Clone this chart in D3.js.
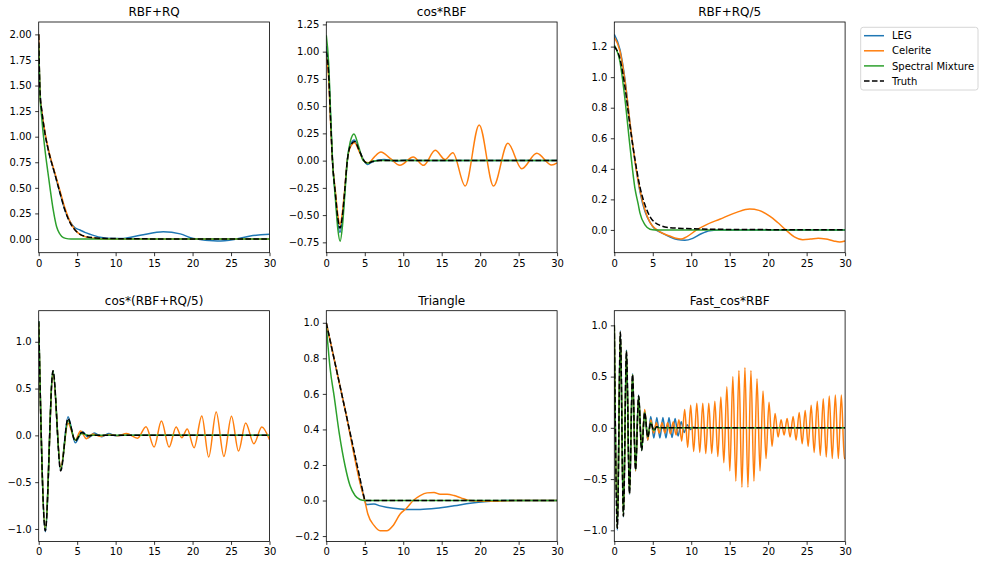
<!DOCTYPE html>
<html><head><meta charset="utf-8">
<script src="https://cdn.jsdelivr.net/npm/d3@7"></script>
<style>body{margin:0;background:#fff} text{font-family:"DejaVu Sans",sans-serif}</style>
</head><body><svg id="c" width="985" height="565"></svg>
<script>
const seriesNames = ["LEG", "Celerite", "Spectral Mixture", "Truth"];
const panelTitles = ["RBF+RQ", "cos*RBF", "RBF+RQ/5", "cos*(RBF+RQ/5)", "Triangle", "Fast_cos*RBF"];
const xTicks = [0, 5, 10, 15, 20, 25, 30];
const yTicks1 = [0, 0.25, 0.5, 0.75, 1.0, 1.25, 1.5, 1.75, 2.0];
const yTicks2 = [-0.75, -0.5, -0.25, 0, 0.25, 0.5, 0.75, 1.0, 1.25];
const yTicks3 = [0, 0.2, 0.4, 0.6, 0.8, 1.0, 1.2];
const yTicks4 = [-1.0, -0.5, 0, 0.5, 1.0];
const yTicks5 = [-0.2, 0, 0.2, 0.4, 0.6, 0.8, 1.0];
const yTicks6 = [-1.0, -0.5, 0, 0.5, 1.0];
const yRanges = [[-0.134, 2.121], [-0.845, 1.272], [-0.149, 1.361], [-1.133, 1.332], [-0.230, 1.068], [-1.108, 1.143]];

// Panel 1: RBF+RQ
const p1Leg = [[0,2.0],[0.1,1.6],[0.2,1.4],[0.39,1.26],[0.82,1.03],[1.25,0.87],[2.12,0.63],[2.77,0.45],[3.42,0.28],[4.07,0.17],[4.72,0.11],[5.37,0.088],[6.0,0.065],[6.67,0.046],[7.97,0.017],[9.7,0.005],[11,0.006],[13.2,0.036],[16.2,0.072],[18.4,0.05],[20.1,0.004],[23.2,-0.02],[25.4,-0.004],[27.5,0.03],[30,0.046]];
const p1Cel = [[0,2.0],[0.1,1.6],[0.2,1.38],[0.4,1.25],[0.82,1.04],[1.25,0.88],[2.12,0.64],[2.77,0.47],[3.42,0.3],[4.07,0.17],[4.72,0.09],[5.37,0.045],[6.2,0.018],[7.5,0.005],[9,0],[30,0]];
const p1Sm = [[0,1.9],[0.15,1.45],[0.4,1.18],[0.82,0.87],[1.2,0.65],[1.47,0.5],[1.9,0.28],[2.33,0.12],[2.69,0.056],[3.0,0.025],[3.5,0.006],[4.2,0],[30,0]];
const p1Truth = [[0,2.0],[0.1,1.6],[0.2,1.4],[0.39,1.26],[0.82,1.03],[1.25,0.87],[2.12,0.63],[2.77,0.45],[3.42,0.28],[4.07,0.16],[4.72,0.088],[5.37,0.046],[6.2,0.023],[7.54,0.01],[9.7,0.004],[15,0.001],[30,0]];

// Panel 2: cos*RBF
const p2Leg = [[0,1.05],[0.3,0.83],[0.57,0.37],[0.8,0.0],[1.18,-0.31],[1.5,-0.57],[1.78,-0.66],[2.1,-0.53],[2.4,-0.28],[2.73,0],[3.1,0.14],[3.65,0.19],[4.3,0.09],[4.9,0.0],[5.37,-0.035],[6.0,-0.01],[7.5,0.01],[9,-0.005],[10.5,0.005],[12,0],[30,0]];
const p2Cel = [[0,0.95],[0.3,0.76],[0.57,0.33],[0.8,0.0],[1.18,-0.28],[1.5,-0.5],[1.78,-0.59],[2.1,-0.47],[2.4,-0.26],[2.73,0],[3.1,0.12],[3.68,0.165],[4.3,0.08],[5.0,-0.01],[5.5,-0.02],[6.2,0.03],[7.1,0.079],[8.3,0.02],[9.57,-0.043],[11.3,0.033],[12.65,-0.043],[14.16,0.094],[15.45,0.01],[16.45,0.072],[18.05,-0.233],[19.87,0.327],[21.74,-0.233],[23.6,0.159],[25.4,-0.074],[27.36,0.067],[29.3,-0.04],[30,-0.02]];
const p2Sm = [[0,1.15],[0.3,0.9],[0.57,0.42],[0.8,0.02],[1.18,-0.35],[1.5,-0.63],[1.8,-0.74],[2.1,-0.6],[2.4,-0.32],[2.73,0.0],[3.1,0.17],[3.6,0.245],[4.2,0.13],[4.8,0.0],[5.4,-0.025],[6,-0.005],[7,0],[30,0]];
const p2Truth = [[0,1.0],[0.3,0.8],[0.57,0.35],[0.8,0.0],[1.18,-0.3],[1.5,-0.53],[1.78,-0.62],[2.1,-0.5],[2.4,-0.27],[2.73,0],[3.1,0.13],[3.68,0.175],[4.3,0.09],[4.9,0.0],[5.37,-0.025],[6.0,-0.008],[7,0],[30,0]];

// Panel 3: RBF+RQ/5
const p3Leg = [[0,1.28],[0.74,1.18],[1.4,0.98],[2.04,0.7],[2.69,0.45],[3.34,0.25],[3.99,0.12],[4.64,0.05],[5.3,0.005],[6.2,-0.02],[7.2,-0.045],[8.2,-0.063],[9.18,-0.068],[10.2,-0.055],[11.3,-0.025],[12.4,-0.005],[13.5,0],[30,0]];
const p3Cel = [[0,1.26],[0.74,1.17],[1.4,0.97],[2.04,0.7],[2.69,0.45],[3.34,0.26],[3.99,0.13],[4.64,0.05],[5.3,0.01],[6.2,-0.02],[7.2,-0.04],[8.0,-0.055],[8.66,-0.06],[9.4,-0.045],[10.7,0.0],[12,0.035],[13.7,0.07],[15.9,0.115],[17.6,0.137],[18.8,0.128],[20.2,0.09],[21.2,0.05],[22.3,0.0],[23.4,-0.045],[24.5,-0.064],[25.5,-0.06],[26.5,-0.054],[27.5,-0.06],[28.5,-0.072],[29.3,-0.079],[30,-0.072]];
const p3Sm = [[0,1.21],[0.74,1.1],[1.4,0.85],[2.04,0.545],[2.69,0.27],[3.1,0.17],[3.34,0.11],[3.99,0.033],[4.64,0.005],[5.3,0],[30,0]];
const p3Truth = [[0,1.2],[0.74,1.12],[1.4,0.93],[2.04,0.68],[2.69,0.46],[3.34,0.28],[3.99,0.164],[4.64,0.087],[5.3,0.048],[6.15,0.026],[7.24,0.015],[9.4,0.009],[13.7,0.004],[20,0.002],[30,0.001]];

// Panel 4: cos*(RBF+RQ/5)
const p4Leg = [[0,1.22],[0.86,-1.03],[1.86,0.68],[2.86,-0.37],[3.81,0.2],[4.76,-0.08],[5.65,0.04],[6.5,-0.025],[7.2,0.025],[8.2,-0.015],[9.1,0.02],[10.0,-0.005],[11,0],[30,0]];
const p4Cel = [[0,1.2],[0.86,-1.0],[1.86,0.66],[2.86,-0.34],[3.81,0.13],[4.76,-0.05],[5.44,0.046],[6.2,-0.036],[7.0,0.015],[8.0,-0.01],[9.2,0.01],[10.3,-0.005],[11.4,0.02],[12.85,-0.03],[13.95,0.093],[15.0,-0.125],[15.95,0.153],[16.95,-0.125],[17.86,0.09],[18.6,-0.025],[19.3,0.068],[20.2,-0.132],[21.2,0.207],[22.1,-0.232],[23.07,0.25],[24.07,-0.225],[25.06,0.204],[25.97,-0.168],[26.9,0.132],[27.97,-0.09],[29.0,0.09],[30,-0.046]];
const p4Sm = [[0,1.22],[0.86,-1.0],[1.86,0.69],[2.86,-0.37],[3.81,0.16],[4.76,-0.05],[5.6,0.02],[6.5,0],[30,0]];
const p4Truth = [[0,1.22],[0.86,-1.02],[1.86,0.69],[2.86,-0.38],[3.81,0.18],[4.76,-0.06],[5.6,0.03],[6.5,-0.005],[7.3,0],[30,0]];

// Panel 5: Triangle
const p5Leg = [[0,1.0],[2.5,0.5],[4.7,0.05],[5.0,0.0],[5.2,-0.023],[6.2,-0.02],[7.0,-0.03],[8.7,-0.044],[10.4,-0.05],[12.2,-0.05],[14.3,-0.044],[16.6,-0.03],[18.7,-0.015],[20.9,-0.005],[23.5,0],[30,0]];
const p5Cel = [[0,1.0],[2.5,0.5],[4.5,0.08],[5.0,0.0],[5.4,-0.076],[6.2,-0.14],[7.0,-0.17],[7.85,-0.17],[8.7,-0.14],[9.6,-0.076],[10.4,-0.045],[11.3,0.0],[12.2,0.028],[13.1,0.043],[14.0,0.045],[14.8,0.035],[15.7,0.035],[16.6,0.028],[17.5,0.015],[18.6,0.0],[20.1,-0.004],[22.3,-0.004],[24.4,0],[30,0]];
const p5Sm = [[0,0.98],[0.2,0.88],[0.48,0.75],[1.04,0.58],[1.69,0.376],[2.43,0.197],[3.08,0.084],[3.73,0.028],[4.37,0.006],[5.0,0],[30,0]];
const p5Truth = [[0,1.0],[2.5,0.5],[4.95,0.01],[5.0,0],[5.05,0],[30,0]];

// Panel 6: Fast_cos*RBF
const p6Leg = [[0,1.0],[0.395,-1.0],[0.79,0.95],[1.185,-0.87],[1.58,0.76],[1.975,-0.65],[2.37,0.53],[2.765,-0.42],[3.16,0.32],[3.555,-0.21],[3.95,0.17],[4.345,-0.12],[4.74,0.11],[5.135,-0.1],[5.53,0.1],[5.925,-0.1],[6.32,0.1],[6.715,-0.1],[7.11,0.1],[7.505,-0.095],[7.9,0.09],[8.295,-0.08],[8.69,0.06],[9.085,-0.045],[9.48,0.03],[9.875,-0.015],[10.27,0.005],[10.7,0],[30,0]];
const p6Cel = [[0,1.0],[0.395,-0.98],[0.79,0.94],[1.185,-0.86],[1.58,0.74],[1.975,-0.64],[2.37,0.52],[2.765,-0.42],[3.16,0.31],[3.555,-0.2],[3.95,0.18],[4.345,-0.12],[4.74,0.08],[5.1,-0.05],[5.47,0.05],[5.83,-0.05],[6.2,0.05],[6.57,-0.05],[6.93,0.05],[7.3,-0.06],[7.66,0.06],[8.03,-0.07],[8.4,0.08],[8.76,-0.13],[9.15,0.18],[9.54,-0.19],[9.93,0.22],[10.32,-0.23],[10.72,0.24],[11.11,-0.24],[11.5,0.24],[11.89,-0.25],[12.28,0.24],[12.67,-0.25],[13.07,0.26],[13.46,-0.28],[13.85,0.3],[14.24,-0.34],[14.63,0.4],[15.02,-0.42],[15.41,0.5],[15.8,-0.52],[16.2,0.56],[16.59,-0.58],[16.98,0.59],[17.37,-0.58],[17.76,0.56],[18.15,-0.52],[18.55,0.48],[18.94,-0.42],[19.33,0.36],[19.72,-0.3],[20.11,0.25],[20.5,-0.18],[20.9,0.14],[21.29,-0.09],[21.68,0.08],[22.07,-0.07],[22.46,0.09],[22.85,-0.09],[23.24,0.11],[23.63,-0.12],[24.03,0.15],[24.42,-0.155],[24.81,0.17],[25.2,-0.18],[25.59,0.22],[25.98,-0.24],[26.38,0.26],[26.77,-0.27],[27.16,0.285],[27.55,-0.285],[27.94,0.31],[28.33,-0.3],[28.73,0.32],[29.12,-0.3],[29.51,0.32],[29.9,-0.3],[30,-0.29]];
const p6Sm = [[0,1.0],[0.395,-0.98],[0.79,0.93],[1.185,-0.86],[1.58,0.75],[1.975,-0.64],[2.37,0.52],[2.765,-0.41],[3.16,0.31],[3.555,-0.22],[3.95,0.15],[4.345,-0.09],[4.74,0.05],[5.135,-0.025],[5.53,0.01],[5.9,0],[30,0]];
const p6Truth = [[0,1.0],[0.395,-0.98],[0.79,0.93],[1.185,-0.86],[1.58,0.75],[1.975,-0.64],[2.37,0.52],[2.765,-0.41],[3.16,0.31],[3.555,-0.22],[3.95,0.15],[4.345,-0.09],[4.74,0.05],[5.135,-0.025],[5.53,0.01],[5.9,0],[30,0]];

const panelSeries = [
  [p1Leg, p1Cel, p1Sm, p1Truth],
  [p2Leg, p2Cel, p2Sm, p2Truth],
  [p3Leg, p3Cel, p3Sm, p3Truth],
  [p4Leg, p4Cel, p4Sm, p4Truth],
  [p5Leg, p5Cel, p5Sm, p5Truth],
  [p6Leg, p6Cel, p6Sm, p6Truth]
];
const panelYTicks = [yTicks1, yTicks2, yTicks3, yTicks4, yTicks5, yTicks6];
const panelFormats = [".2f", ".2f", ".1f", ".1f", ".1f", ".1f"];

// ---- drawing ----
const colors = ["#1f77b4", "#ff7f0e", "#2ca02c", "#000000"];
const svg = d3.select("#c");
const lefts = [38.7, 326.3, 614.3], tops = [22, 310.7];
const W = 230.8, H = 230.7;
const defs = svg.append("defs");

panelTitles.forEach((title, i) => {
  const L = lefts[i % 3], T = tops[Math.floor(i / 3)];
  const x = d3.scaleLinear().domain([0, 30]).range([L, L + W]);
  const y = d3.scaleLinear().domain(yRanges[i]).range([T + H, T]);
  const g = svg.append("g");
  defs.append("clipPath").attr("id", "clip" + i).append("rect")
    .attr("x", L).attr("y", T).attr("width", W).attr("height", H);
  const line = d3.line().x(d => x(d[0])).y(d => y(d[1])).curve(d3.curveMonotoneX);
  const lg = g.append("g").attr("clip-path", `url(#clip${i})`);
  panelSeries[i].forEach((data, k) => {
    lg.append("path").datum(data).attr("d", line)
      .attr("fill", "none").attr("stroke", colors[k]).attr("stroke-width", 1.5)
      .attr("stroke-linejoin", "round")
      .attr("stroke-dasharray", k === 3 ? "5.55,2.4" : null);
  });
  const xa = g.append("g").attr("transform", `translate(0,${T + H})`)
    .call(d3.axisBottom(x).tickValues(xTicks).tickFormat(d3.format("d")).tickSize(3.5).tickPadding(3.5));
  const ya = g.append("g").attr("transform", `translate(${L},0)`)
    .call(d3.axisLeft(y).tickValues(panelYTicks[i]).tickFormat(d3.format(panelFormats[i])).tickSize(3.5).tickPadding(3.5));
  [xa, ya].forEach(a => {
    a.select(".domain").remove();
    a.selectAll(".tick line").attr("stroke", "#000").attr("stroke-width", 0.8);
    a.selectAll(".tick text").attr("font-size", 10).attr("fill", "#000")
      .attr("font-family", "DejaVu Sans, sans-serif");
  });
  g.append("rect").attr("x", L).attr("y", T).attr("width", W).attr("height", H)
    .attr("fill", "none").attr("stroke", "#000").attr("stroke-width", 0.8);
  g.append("text").attr("x", L + W / 2).attr("y", T - 6).attr("text-anchor", "middle")
    .attr("font-size", 12).attr("fill", "#000").text(title);
});

// legend
const lgd = svg.append("g");
lgd.append("rect").attr("x", 860.7).attr("y", 27.3).attr("width", 117.3).attr("height", 62.7)
  .attr("rx", 2.5).attr("fill", "#fff").attr("fill-opacity", 0.8)
  .attr("stroke", "#cccccc").attr("stroke-width", 0.8);
seriesNames.forEach((name, k) => {
  const yy = 35.7 + k * 15.1;
  lgd.append("line").attr("x1", 864).attr("x2", 884).attr("y1", yy).attr("y2", yy)
    .attr("stroke", colors[k]).attr("stroke-width", 1.5)
    .attr("stroke-dasharray", k === 3 ? "5.55,2.4" : null);
  lgd.append("text").attr("x", 892).attr("y", yy + 3.6).attr("font-size", 10)
    .attr("fill", "#000").text(name);
});
</script></body></html>
